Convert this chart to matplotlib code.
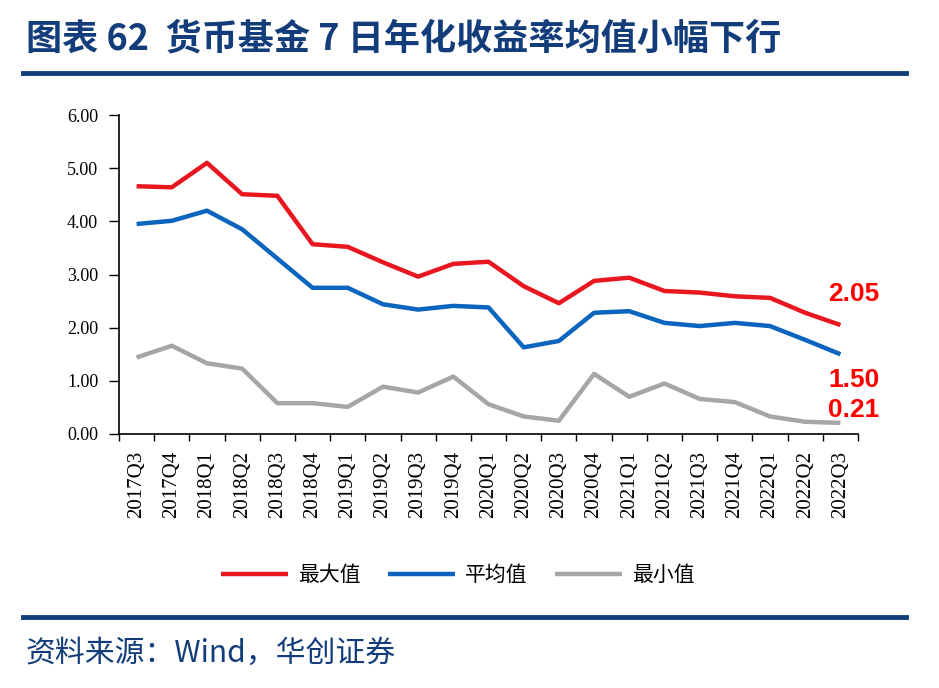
import numpy as np
import matplotlib.pyplot as plt

# data
quarters = ["2017Q3", "2017Q4", "2018Q1", "2018Q2", "2018Q3", "2018Q4",
            "2019Q1", "2019Q2", "2019Q3", "2019Q4", "2020Q1", "2020Q2",
            "2020Q3", "2020Q4", "2021Q1", "2021Q2", "2021Q3", "2021Q4",
            "2022Q1", "2022Q2", "2022Q3"]
max_vals = [4.66, 4.64, 5.10, 4.51, 4.48, 3.57, 3.52, 3.23, 2.96, 3.20, 3.24,
            2.78, 2.46, 2.88, 2.94, 2.69, 2.66, 2.59, 2.56, 2.28, 2.05]
avg_vals = [3.95, 4.01, 4.20, 3.85, 3.30, 2.75, 2.75, 2.44, 2.34, 2.41, 2.38,
            1.63, 1.75, 2.28, 2.31, 2.09, 2.03, 2.09, 2.03, 1.77, 1.50]
min_vals = [1.44, 1.66, 1.33, 1.23, 0.58, 0.58, 0.51, 0.89, 0.78, 1.08, 0.56,
            0.33, 0.25, 1.13, 0.70, 0.95, 0.66, 0.60, 0.33, 0.23, 0.21]

series_names = ["最大值", "平均值", "最小值"]
colors = ["#E8161F", "#0B64BE", "#A6A6A6"]

plt.rcParams['font.family'] = ['Noto Sans CJK SC', 'DejaVu Sans']
navy = "#123D7A"

fig = plt.figure(figsize=(9.39, 6.88), dpi=100)
ax = fig.add_axes([119 / 939, 254 / 688, (858 - 119) / 939, (573 - 254) / 688])

x = np.arange(len(quarters))
lines = []
for vals, name, c in zip([max_vals, avg_vals, min_vals], series_names, colors):
    ln, = ax.plot(x, vals, color=c, linewidth=3.2, label=name, solid_capstyle='butt')
    lines.append(ln)

# end-point labels
for vals, dy in zip([max_vals, avg_vals, min_vals], [0.58, -0.48, 0.24]):
    ax.text(x[-1] - 0.35, vals[-1] + dy, f"{vals[-1]:.2f}", color="#FF0000",
            fontsize=19, fontweight='bold', family='Liberation Sans',
            ha='left', va='center', clip_on=False)

ax.set_xlim(-0.5, len(quarters) - 0.5)
ax.set_ylim(0, 6)
ax.set_yticks(np.arange(0, 6.01, 1))
ax.set_yticklabels([f"{v:.2f}" for v in np.arange(0, 6.01, 1)],
                   family='Liberation Serif', fontsize=13)
ax.set_xticks(x)
ax.set_xticklabels(quarters, rotation=90, family='Liberation Serif', fontsize=15)
ax.set_xticks(np.arange(-0.5, len(quarters), 1), minor=True)
ax.tick_params(axis='x', which='major', length=0, pad=12)
ax.tick_params(axis='x', which='minor', length=5, width=1, direction='out')
ax.tick_params(axis='y', length=7, width=1, direction='out', pad=8)
for s in ['top', 'right']:
    ax.spines[s].set_visible(False)
for s in ['left', 'bottom']:
    ax.spines[s].set_linewidth(1.2)

fig.legend(handles=lines, loc='center', bbox_to_anchor=(458 / 939, 1 - 575 / 688),
           ncol=3, frameon=False, fontsize=15, handlelength=3.2, columnspacing=1.3,
           handletextpad=0.5)

# header and footer
fig.text(26 / 939, 1 - 39 / 688, "图表 62  货币基金 7 日年化收益率均值小幅下行",
         color=navy, fontsize=26, fontweight='bold', va='center', ha='left')
fig.add_artist(plt.Line2D([23 / 939, 906 / 939], [1 - 73 / 688] * 2, color=navy, linewidth=3.5))
fig.add_artist(plt.Line2D([23 / 939, 906 / 939], [1 - 617 / 688] * 2, color=navy, linewidth=3.5))
fig.text(26 / 939, 1 - 653 / 688, "资料来源：Wind，华创证券", color=navy,
         fontsize=21.5, style='italic', va='center', ha='left')

fig.savefig("out.png", dpi=100)
